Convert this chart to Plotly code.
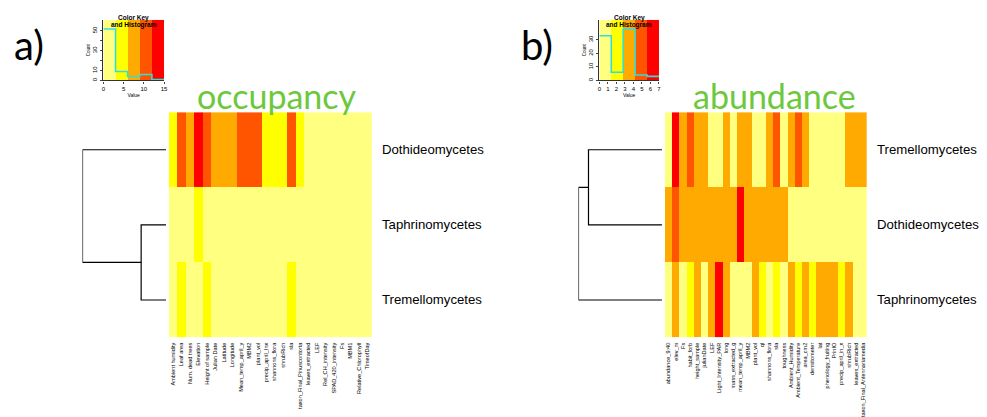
import numpy as np
import plotly.graph_objects as go

W, H = 987, 417

# ---------------- data ----------------
occ_rows = ["Dothideomycetes", "Taphrinomycetes", "Tremellomycetes"]
occ_cols = ["Ambient humidity", "Leaf area", "Num. dead trees", "Elevation", "Height of sample",
            "Julian Date", "Latitude", "Longitude", "Mean_temp_april_y", "MBM2", "plant_vol",
            "precip_april_Inx", "shannons_flora", "shrubRich", "sla", "taxon_Final_Pinuscontorta",
            "leaves_extracted", "LEF", "Rel_CH_intensity", "SPAD_420_intensity", "Fs", "MBM1",
            "Relative_Chlorophyll", "TimeofDay"]
occ_doth = [4, 11, 8, 14, 10, 7, 7, 8, 10, 11, 10, 5, 5, 4, 11, 4, 0, 0, 0, 0, 0, 0, 0, 0]
occ_taph = [1, 1, 0, 5, 1, 0, 0, 1, 0, 0, 1, 0, 0, 0, 1, 0, 0, 0, 0, 0, 0, 0, 0, 0]
occ_trem = [1, 4, 1, 0, 4, 1, 0, 0, 0, 1, 0, 0, 0, 0, 4, 1, 0, 0, 0, 0, 0, 0, 0, 0]
occ_breaks = [0, 3, 6, 9, 12, 15]
# dendrogram merges: (row a, row b, height)
occ_merge_low = 1.0      # Taphrinomycetes + Tremellomycetes
occ_merge_root = 3.36    # Dothideomycetes + rest

abu_rows = ["Tremellomycetes", "Dothideomycetes", "Taphrinomycetes"]
abu_cols = ["abundance_9:40", "elev_m", "Fs", "habit_forb", "height_sample", "julianDate", "LEF",
            "Light_Intensity_PAR", "long", "mass_extracted_g", "mean_temp_april_y", "MBM2",
            "plant_vol", "ql", "shannons_flora", "sla", "toughness", "Ambient_Humidity",
            "Ambient_Temperature", "area_cm2", "densitometer", "lat", "phenology_fruiting", "PrinIO",
            "precip_april_in_x", "shrubRich", "leaves_extracted", "taxon_Final_Antennariamedia"]
abu_trem = [0.5, 6.5, 3.5, 5.0, 3.5, 3.5, 0.5, 0.5, 3.5, 0.5, 3.5, 3.5, 0.5, 0.5, 3.5, 5.0,
            0.5, 3.5, 5.0, 3.5, 0.5, 0.5, 0.5, 0.5, 0.5, 3.5, 3.5, 3.5]
abu_doth = [3.5, 5.0, 3.5, 3.5, 3.5, 3.5, 3.5, 3.5, 3.5, 3.5, 6.5, 3.5, 3.5, 3.5, 3.5, 3.5,
            3.5, 0.5, 0.5, 0.5, 0.5, 0.5, 0.5, 0.5, 0.5, 0.5, 0.5, 0.5]
abu_taph = [0.5, 3.5, 0.5, 2.0, 3.5, 0.5, 3.5, 6.5, 3.5, 0.5, 0.5, 0.5, 3.5, 2.0, 0.5, 2.0,
            0.5, 3.5, 2.0, 3.5, 2.0, 3.5, 3.5, 3.5, 2.0, 3.5, 0.5, 0.5]
abu_breaks = [0, 1.4, 2.8, 4.2, 5.6, 7]
abu_merge_low = 0.88     # Tremellomycetes + Dothideomycetes
abu_merge_root = 1.0     # + Taphrinomycetes

# ---------------- style ----------------
HEAT = ["#FFFF80", "#FFFF00", "#FFAA00", "#FF5500", "#FF0000"]
HIST_COL = "#33DDD8"
TITLE_GREEN = "#6CC83C"
HIST_FRAC = 0.85
FONT = "Liberation Sans, Arial, sans-serif"


def step_scale(colors):
    n = len(colors)
    cs = []
    for i, c in enumerate(colors):
        cs.append([i / n, c])
        cs.append([(i + 1) / n, c])
    return cs


CS = step_scale(HEAT)


def fx(p):
    return p / W


def fy(p):
    return 1 - p / H


fig = go.Figure()
layout = dict(
    width=W, height=H, margin=dict(l=0, r=0, t=0, b=0),
    paper_bgcolor="white", plot_bgcolor="white", showlegend=False,
    font=dict(family=FONT, color="black"),
)
annotations = []


def panel(idx, rows, cols, matrix, breaks, hm_x, dendro_x, key_x, merges, title, title_x, tag, tag_x):
    # axis ids
    hx, hy = f"x{4*idx+1}", f"y{4*idx+1}"
    dx = f"x{4*idx+2}"
    kx, ky = f"x{4*idx+3}", f"y{4*idx+3}"
    def lay(a):
        return a[0] + "axis" + a[1:] if a[1:] != "1" else a[0] + "axis"

    z = np.array(matrix, dtype=float)
    ncol = z.shape[1]
    fig.add_trace(go.Heatmap(
        z=z, x=list(range(ncol)), y=list(range(len(rows))),
        colorscale=CS, zmin=breaks[0], zmax=breaks[-1], showscale=False,
        xaxis=hx, yaxis=hy, hoverinfo="skip"))
    layout[lay(hx)] = dict(domain=[fx(hm_x[0]), fx(hm_x[1])], anchor=hy,
                           range=[-0.5, ncol - 0.5], tickmode="array",
                           tickvals=list(range(ncol)), ticktext=cols, tickangle=-90,
                           tickfont=dict(size=5.6, family=FONT), ticks="", showgrid=False,
                           zeroline=False, showline=False, ticklabelstandoff=3)
    layout[lay(hy)] = dict(domain=[fy(340), fy(113)], anchor=hx, range=[len(rows) - 0.5, -0.5],
                           showticklabels=False, ticks="", showgrid=False, zeroline=False)

    # row labels
    for i, r in enumerate(rows):
        annotations.append(dict(x=fx(hm_x[1] + 8), xref="paper", y=i, yref=hy, text=r,
                                showarrow=False, xanchor="left", yanchor="middle",
                                font=dict(size=13.2, family=FONT)))

    # dendrogram from merges
    (a, b, h1), (c, h2) = merges
    mid = (a + b) / 2
    segs = [
        ([0, h1, h1, 0], [a, a, b, b]),
        ([h1, h2, h2, 0], [mid, mid, c, c]),
    ]
    for xs, ys in segs:
        fig.add_trace(go.Scatter(x=xs, y=ys, mode="lines", line=dict(color="black", width=1.2),
                                 xaxis=dx, yaxis=hy, hoverinfo="skip", cliponaxis=False))
    layout[lay(dx)] = dict(domain=[fx(dendro_x[0]), fx(dendro_x[1])], anchor=hy,
                           range=[h2, 0], visible=False)

    # colour key with histogram
    vals = z.ravel()
    counts, _ = np.histogram(vals, bins=breaks)
    ymax = counts.max() / HIST_FRAC
    centers = [(breaks[i] + breaks[i + 1]) / 2 for i in range(len(breaks) - 1)]
    fig.add_trace(go.Heatmap(
        z=[centers], x=breaks, y=[0, ymax], colorscale=CS, zmin=breaks[0], zmax=breaks[-1],
        showscale=False, xaxis=kx, yaxis=ky, hoverinfo="skip"))
    fig.add_trace(go.Scatter(
        x=breaks, y=list(counts) + [counts[-1]], mode="lines", line=dict(shape="hv", color=HIST_COL, width=1.6),
        xaxis=kx, yaxis=ky, hoverinfo="skip"))
    step = 5 if breaks[-1] > 10 else 1
    xt = list(np.arange(0, breaks[-1] + 0.001, step))
    ytv = list(range(0, int(counts.max()) + 1, 10))
    if counts.max() > 45:
        ytt = [str(v) if v in (0, 10, 30, 50) else "" for v in ytv]
    else:
        ytt = [str(v) for v in ytv]
    layout[lay(kx)] = dict(domain=[fx(key_x[0]), fx(key_x[1])], anchor=ky,
                           range=[breaks[0], breaks[-1]], tickvals=xt,
                           ticktext=[f"{v:g}" for v in xt], ticks="outside", ticklen=2.5,
                           tickfont=dict(size=6, family=FONT), showline=True, linecolor="#333",
                           linewidth=1.2, showgrid=False, zeroline=False,
                           title=dict(text="Value", font=dict(size=5, family=FONT), standoff=2))
    layout[lay(ky)] = dict(domain=[fy(81), fy(20)], anchor=kx, range=[0, ymax],
                           tickvals=ytv, ticktext=ytt, tickangle=-90, ticks="outside", ticklen=2.5,
                           tickfont=dict(size=6, family=FONT), showline=True, linecolor="#333",
                           linewidth=1, showgrid=False, zeroline=False,
                           title=dict(text="Count", font=dict(size=4.5, family=FONT), standoff=1))
    kc = fx((key_x[0] + key_x[1]) / 2)
    annotations.append(dict(x=kc, y=fy(12), xref="paper", yref="paper", text="<b>Color Key</b>",
                            showarrow=False, xanchor="center", yanchor="top",
                            font=dict(size=6.5, family=FONT)))
    annotations.append(dict(x=kc, y=fy(19.5), xref="paper", yref="paper", text="<b>and Histogram</b>",
                            showarrow=False, xanchor="center", yanchor="top",
                            font=dict(size=6.5, family=FONT)))

    annotations.append(dict(x=fx(title_x), y=fy(96), xref="paper", yref="paper", text=title,
                            showarrow=False, xanchor="center", yanchor="middle",
                            font=dict(size=34, family="Lato, Open Sans, sans-serif", color=TITLE_GREEN)))
    annotations.append(dict(x=fx(tag_x), y=fy(45), xref="paper", yref="paper", text=tag,
                            showarrow=False, xanchor="left", yanchor="middle",
                            font=dict(size=40, family="Lato, Open Sans, sans-serif", color="black")))


panel(0, occ_rows, occ_cols, [occ_doth, occ_taph, occ_trem], occ_breaks,
      hm_x=(168, 372), dendro_x=(81, 165), key_x=(102, 163),
      merges=((1, 2, occ_merge_low), (0, occ_merge_root)),
      title="occupancy", title_x=277, tag="a)", tag_x=10)
panel(1, abu_rows, abu_cols, [abu_trem, abu_doth, abu_taph], abu_breaks,
      hm_x=(667, 870), dendro_x=(580, 664), key_x=(601, 661),
      merges=((0, 1, abu_merge_low), (2, abu_merge_root)),
      title="abundance", title_x=777, tag="b)", tag_x=520)

layout["annotations"] = annotations
fig.update_layout(**layout)
fig.write_html("out.html")
